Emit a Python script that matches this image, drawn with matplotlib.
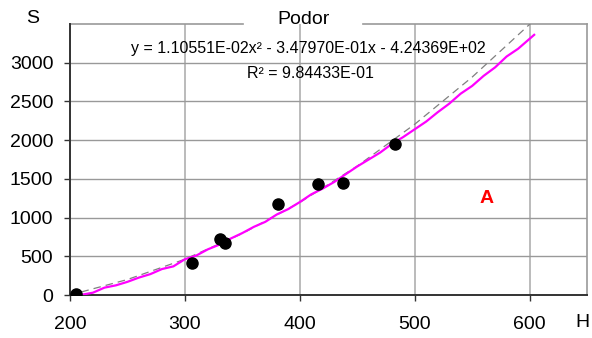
import numpy as np
import matplotlib
matplotlib.use('Agg')
import matplotlib.pyplot as plt

plt.rcParams['font.family'] = ['Liberation Sans', 'DejaVu Sans']

# measured points
h_obs = [205, 306, 331, 335, 381, 416, 438, 483]
s_obs = [10, 410, 718, 667, 1179, 1436, 1449, 1949]

# fitted curve (magenta)
h_fit = [209, 220, 230, 240, 250, 260, 270, 280, 290, 300, 310, 320, 330, 340,
         350, 360, 370, 380, 390, 400, 410, 420, 430, 440, 450, 460, 470, 480,
         490, 500, 510, 520, 530, 540, 550, 560, 570, 580, 590, 604]
s_fit = [0, 30, 95, 125, 170, 225, 270, 335, 370, 462, 510, 590, 650, 730,
         800, 880, 945, 1040, 1110, 1200, 1300, 1375, 1460, 1560, 1660, 1750,
         1840, 1950, 2040, 2140, 2240, 2360, 2470, 2600, 2700, 2830, 2940,
         3080, 3180, 3360]

# trend line (dashed)
h_trend = [210, 250, 300, 350, 400, 450, 500, 550, 604]
s_trend = [40, 200, 462, 794, 1195, 1665, 2205, 2814, 3550]

eq_line1 = 'y = 1.10551E-02x² - 3.47970E-01x - 4.24369E+02'
eq_line2 = 'R² = 9.84433E-01'

fig = plt.figure(figsize=(5.92, 3.38), dpi=100)
ax = fig.add_axes([0.1182, 0.1272, 0.8734, 0.8018])

ax.plot(h_trend, s_trend, color='#808080', lw=0.9, ls=(0, (6, 4)), zorder=3)
ax.plot(h_fit, s_fit, color='#ff00ff', lw=1.6, zorder=4)
ax.plot(h_obs, s_obs, 'o', color='black', ms=8, zorder=5)

ax.set_xlim(200, 650)
ax.set_ylim(0, 3500)
ax.set_xticks([200, 300, 400, 500, 600])
ax.set_yticks([0, 500, 1000, 1500, 2000, 2500, 3000])
ax.tick_params(labelsize=14, length=4, width=1, direction='out', color='#333333')
ax.tick_params(axis='x', pad=11)
ax.tick_params(axis='y', pad=8)

ax.grid(axis='y', color='#999999', lw=1)
ax.grid(axis='x', color='#b5b5b5', lw=1.3)
ax.set_axisbelow(True)

ax.spines['left'].set_color('#333333')
ax.spines['left'].set_linewidth(1.4)
ax.spines['bottom'].set_color('#333333')
ax.spines['bottom'].set_linewidth(1.4)
ax.spines['right'].set_color('#999999')
ax.spines['right'].set_linewidth(1.2)
ax.spines['top'].set_visible(False)

# top border with a gap for the title
ax.plot([0, 0.335], [1, 1], transform=ax.transAxes, color='#999999', lw=1.2, clip_on=False)
ax.plot([0.567, 1], [1, 1], transform=ax.transAxes, color='#999999', lw=1.2, clip_on=False)
ax.text(0.451, 1.015, 'Podor', transform=ax.transAxes, ha='center', va='center', fontsize=14)

ax.text(-0.072, 1.02, 'S', transform=ax.transAxes, ha='center', va='center', fontsize=14)
ax.text(0.992, -0.1, 'H', transform=ax.transAxes, ha='center', va='center', fontsize=14)

ax.text(0.461, 0.908, eq_line1, transform=ax.transAxes, ha='center', va='center', fontsize=11.5)
ax.text(0.465, 0.819, eq_line2, transform=ax.transAxes, ha='center', va='center', fontsize=11.5)

ax.text(563, 1244, 'A', color='red', fontweight='bold', fontsize=14, ha='center', va='center')

fig.savefig('out.png', dpi=100)
